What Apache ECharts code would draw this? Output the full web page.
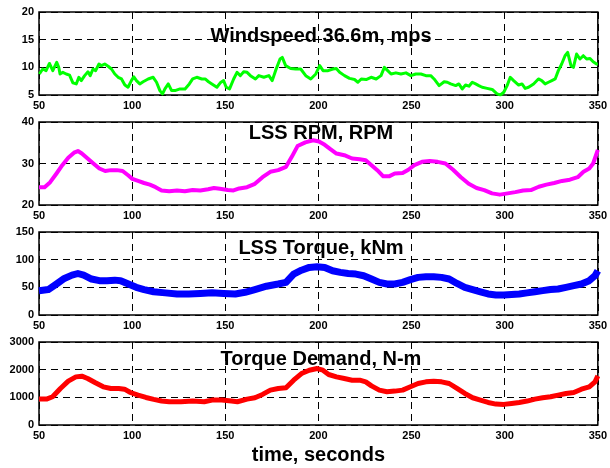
<!DOCTYPE html>
<html>
<head>
<meta charset="utf-8">
<script src="https://cdn.jsdelivr.net/npm/echarts@6/dist/echarts.min.js"></script>
<style>
html,body{margin:0;padding:0;background:#fff;}
#chart{width:610px;height:468px;}
</style>
</head>
<body>
<div id="chart"></div>
<script>
// ---- Data ----
var xTicks = [50, 100, 150, 200, 250, 300, 350];

var windT = [50.2,52,53.8,55.6,56.5,57.4,58.3,59.5,60.6,61.3,62.8,64.6,66.4,68.2,70,71.4,72.7,74.5,76.3,77.5,79,80.4,82.2,83.5,85.3,87.1,88.9,90.7,92.5,94.3,96.1,97.8,99.6,100.9,102.3,104.1,105.9,108.6,111.3,113.1,114.9,116.3,117.6,119.4,121.2,123,125.7,128.4,130.7,132.5,134.7,137.4,139.2,141,142.8,145.5,147.3,149.1,150.5,152.3,154.5,156.3,158.1,159.9,161.7,163.5,166.2,168,170.7,173.4,175.2,177,179.4,180.6,182.4,185.1,187.8,190.5,193.2,195.9,198.6,200.7,202.5,205.2,207.8,209.6,211.4,214,216.7,219.4,221.2,223,225.6,228.3,231,233.6,235.4,237.2,239,241.6,244.3,247,249.6,252.3,255,257.7,260.3,262.1,264.8,267.5,269.2,271,273.7,275.4,277.2,279,280.8,282.6,284.4,286.1,287.9,290.6,293.3,295.9,297.7,299.5,301.3,303,304.8,307.5,309.3,311,312.8,315.5,318.1,319.9,321.7,323.5,325.3,327.1,328.8,330.6,332.4,333.8,335.6,336.9,338.6,340.4,342.2,344,345.8,347.5,349.3,350];
var windV = [8.8,9.7,9.4,10.7,10.9,9.4,9.1,10.9,10,8.8,9.1,8.8,8.6,7.2,7,8.2,7.6,8.5,9.2,8.5,9.7,9.4,10.6,10.3,10.6,10.2,9.7,8.8,8.2,7.9,6.8,6.4,7.6,8.3,7.6,7,7.4,7.9,8.2,7.3,5.8,5.2,6.1,7,5.8,5.8,6.1,6.1,7,7.9,8.2,7.9,7.9,7.4,7,6.4,7.2,7.6,6.4,6.1,7.9,9.1,8.5,9.2,9.1,8.5,7.9,8.5,8.2,8.5,7.6,9.4,11.5,11.8,10.3,9.8,9.7,9.7,8.5,7.9,8.8,10.3,9.4,9.4,9.7,9.8,9.1,8.5,8,7.8,7.3,7.9,7.8,8.2,7.9,8.5,10,9.4,8.8,9,8.8,9,8.5,8.8,8.8,8.5,8.5,7.9,6.7,7.4,7.3,7,6.7,7,6.1,6.8,6.6,7.3,7,6.7,6.4,6.2,6,5.2,5,5.5,6.7,8.2,7.6,6.8,7,6.2,6.4,7,7.9,7.6,7,7.3,7.6,7.9,9.4,10.6,12.1,12.7,10.3,10,12.4,11.5,12.1,11.5,11.6,11,10.6,10.6];

var rpmT = [50,53,56,59.4,62.5,65.7,68.8,70.9,73,76.1,79.2,82.4,85.5,88.6,91.8,94.9,98,100.1,103.2,106.4,109.5,112.6,115.8,119.9,124.1,128.3,132.5,136.6,140.8,143.9,147.1,151.3,154.4,157.5,161.7,165.9,170,174.2,178.4,182.6,185.7,188.8,193,197.2,200.3,203.4,206.6,209.7,213.9,218.1,222.2,225.4,228.5,231.6,234.8,237.9,241,245.2,248.3,251.5,255.6,259.8,264,268.2,272.3,276.5,280.7,284.9,289,293.2,297.4,301.6,305.7,309.9,314.1,318.3,322.4,326.6,330.8,335,339.2,342.3,345.4,347.5,350];
var rpmV = [24.3,24.3,25.5,27.6,29.6,31.4,32.6,33,32.4,31.2,30,28.8,28.2,28.4,28.4,28.2,27.1,26.3,25.8,25.3,24.9,24.3,23.5,23.3,23.5,23.3,23.6,23.5,23.8,24.1,23.9,23.6,23.5,24,24.3,25.1,26.7,28,28.4,29.2,31.6,34.2,35.1,35.6,35.3,34.5,33.4,32.4,32,31.2,31,30.8,29.6,28.4,26.9,26.9,27.6,27.7,28.5,29.6,30.4,30.6,30.4,30,28.5,26.7,25.1,24.1,23.6,22.8,22.5,22.8,23.1,23.5,23.6,24.4,24.9,25.3,25.8,26.1,26.7,28,28.8,30,33.3];

var torqT = [50,55,59.4,63.6,67.7,70.9,74,78.2,82.4,86.5,90.7,93.8,98,102.2,106.4,111.6,117.8,124.1,130.4,136.6,142.9,149.1,155.4,160.6,165.9,172.1,178.4,182.6,186.7,190.9,195.1,199.3,203.4,207.6,211.8,216,220.1,224.3,228.5,232.7,236.8,241,245.2,249.4,253.5,257.7,261.9,266.1,270.2,274.4,278.6,282.8,287,291.1,295.3,299.5,303.7,307.8,312,316.2,320.4,324.6,328.7,332.9,337.1,341.2,345.4,348.5,350];
var torqV = [44,46,56,66,72,75,72,65,62,62,63,62,56,50,46,42,40,38,38,39,40,39,38,41,46,52,56,59,74,81,86,87,86,80,77,75,74,71,65,59,56,56,59,64,68,69,69,68,65,57,50,46,42,38,36,36,37,38,40,42,44,46,47,50,53,56,62,71,80];

var demT = [50,54,57.3,61.5,65.7,69.8,73,76.1,80.3,84.5,88.6,92.8,95.9,99.1,103.2,107.4,111.6,115.8,119.9,126.2,132.5,138.7,142.9,148.1,153.3,156.5,161.7,165.9,170,174.2,178.4,182.6,186.7,190.9,195.1,199.3,202.4,205.5,209.7,213.9,218.1,222.2,225.4,228.5,232.7,236.8,241,245.2,249.4,253.5,257.7,261.9,266.1,270.2,274.4,278.6,282.8,287,291.1,295.3,299.5,303.7,307.8,312,316.2,320.4,324.6,328.7,332.9,337.1,341.2,345.4,348.5,350];
var demV = [936,936,1020,1320,1585,1740,1765,1680,1525,1380,1320,1320,1295,1175,1080,995,925,865,840,840,865,840,900,900,865,840,936,985,1105,1260,1320,1345,1620,1860,1980,2040,1980,1825,1740,1680,1620,1620,1560,1415,1260,1200,1225,1260,1380,1500,1560,1585,1560,1500,1320,1140,985,900,815,755,745,780,815,865,936,985,1020,1080,1140,1175,1295,1380,1560,1775];

var titles = ['Windspeed 36.6m, mps', 'LSS RPM, RPM', 'LSS Torque, kNm', 'Torque Demand, N-m'];
var yMin = [5, 20, 0, 0];
var yMax = [20, 40, 150, 3000];
var yStep = [5, 10, 50, 1000];
var xLabel = 'time, seconds';

// ---- Chart ----
function pairs(t, v) { return t.map(function (x, i) { return [x, v[i]]; }); }
function plain(v) { return String(v); }

var FONT = 'Liberation Sans, Arial, Helvetica, sans-serif';
var tops = [12, 122, 232, 342];
var titleTops = [26, 123, 238, 349];
var colors = ['#00FF00', '#FF00FF', '#0000FF', '#FF0000'];
var widths = [3, 4, 7, 5];
var seriesData = [pairs(windT, windV), pairs(rpmT, rpmV), pairs(torqT, torqV), pairs(demT, demV)];

var grids = [], xAxes = [], yAxes = [], series = [], titleArr = [];
for (var i = 0; i < 4; i++) {
  grids.push({ left: 39, right: 9, top: tops[i], height: 83, show: true,
    borderColor: '#000', borderWidth: 1.5, backgroundColor: '#fff' });
  var xa = {
    type: 'value', gridIndex: i, min: 50, max: 350, interval: 50,
    axisLine: { show: false }, axisTick: { show: false },
    axisLabel: { color: '#000', fontFamily: FONT, fontWeight: 'bold', fontSize: 11, margin: 5, formatter: plain },
    splitLine: { show: true, lineStyle: { color: '#000', type: [7, 5], width: 1 } }
  };
  if (i === 3) {
    xa.name = xLabel; xa.nameLocation = 'middle'; xa.nameGap = 20;
    xa.nameTextStyle = { color: '#000', fontFamily: FONT, fontWeight: 'bold', fontSize: 20 };
  }
  xAxes.push(xa);
  yAxes.push({
    type: 'value', gridIndex: i, min: yMin[i], max: yMax[i], interval: yStep[i],
    axisLine: { show: false }, axisTick: { show: false },
    axisLabel: { color: '#000', fontFamily: FONT, fontWeight: 'bold', fontSize: 11, margin: 5, formatter: plain },
    splitLine: { show: true, lineStyle: { color: '#000', type: [7, 5], width: 1 } }
  });
  series.push({
    type: 'line', xAxisIndex: i, yAxisIndex: i, data: seriesData[i],
    showSymbol: false, symbol: 'none', smooth: false,
    lineStyle: { color: colors[i], width: widths[i], join: 'round' }, z: 3
  });
  titleArr.push({
    text: titles[i], left: 321, top: titleTops[i], textAlign: 'center', padding: 0,
    textStyle: { color: '#000', fontFamily: FONT, fontWeight: 'bold', fontSize: 20, lineHeight: 20 }
  });
}

var chart = echarts.init(document.getElementById('chart'), null, { renderer: 'canvas' });
chart.setOption({
  animation: false,
  backgroundColor: '#fff',
  title: titleArr,
  grid: grids,
  xAxis: xAxes,
  yAxis: yAxes,
  series: series
});
</script>
</body>
</html>
